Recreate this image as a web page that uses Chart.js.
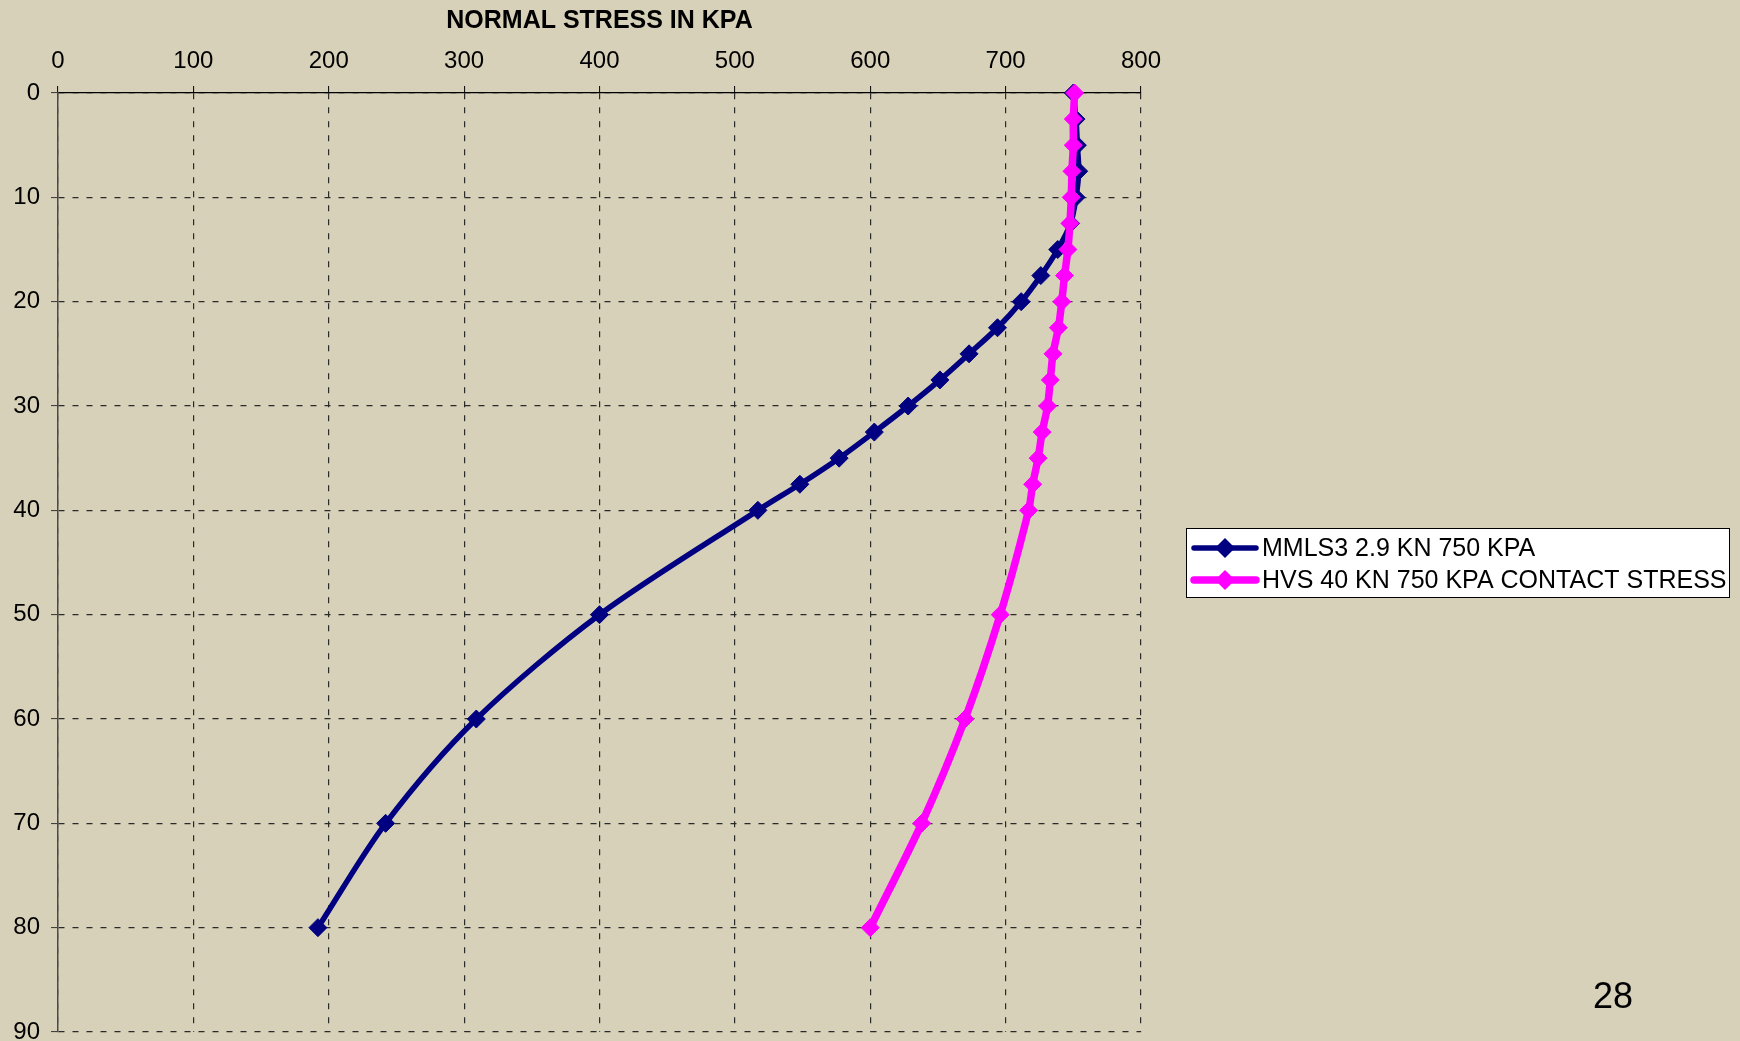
<!DOCTYPE html>
<html>
<head>
<meta charset="utf-8">
<script src="https://cdn.jsdelivr.net/npm/chart.js@4/dist/chart.umd.min.js"></script>
<style>
  html, body { margin: 0; padding: 0; background: #D7D1B9; }
  #wrap { position: relative; width: 1740px; height: 1041px; overflow: hidden; background: #D7D1B9; }
  #pg { position: absolute; left: 1573px; top: 974px; width: 80px; text-align: center;
        font: 36px "Liberation Sans", Arial, sans-serif; color: #000; line-height: 44px; }
</style>
</head>
<body>
<div id="wrap">
  <canvas id="c" width="1740" height="1041"></canvas>
  <div id="pg">28</div>
</div>
<script>
// ---- data ----
const depths = [0, 2.5, 5, 7.5, 10, 12.5, 15, 17.5, 20, 22.5, 25, 27.5, 30, 32.5, 35, 37.5, 40, 50, 60, 70, 80];
const mmls3Stress = [750, 752, 753, 754, 752, 748, 738.5, 726, 711.5, 694, 673, 651.5, 628, 603, 577, 548, 517, 400, 309, 242, 192];
const hvsStress = [751, 750, 750, 749, 748.5, 747.5, 746, 743.5, 741.5, 739, 735, 733, 731, 727, 724, 720, 717, 696, 670, 638, 600];
const seriesLabels = ['MMLS3 2.9 KN 750 KPA', 'HVS 40 KN 750 KPA CONTACT STRESS'];
const seriesColors = ['#000080', '#FF00FF'];
const xTickLabels = ['0', '100', '200', '300', '400', '500', '600', '700', '800'];
const yTickLabels = ['0', '10', '20', '30', '40', '50', '60', '70', '80', '90'];
const xTitle = 'NORMAL STRESS IN KPA';

const FONT = '"Liberation Sans", Arial, sans-serif';
const toPts = (xs) => xs.map((v, i) => ({ x: v, y: depths[i] }));

const legendPlugin = {
  id: 'boxLegend',
  afterDraw(chart) {
    const ctx = chart.ctx;
    const bx = 1186.5, by = 528.5, bw = 543, bh = 69;
    ctx.save();
    ctx.fillStyle = '#FFFFFF';
    ctx.fillRect(bx, by, bw, bh);
    ctx.strokeStyle = '#000000';
    ctx.lineWidth = 1;
    ctx.strokeRect(bx, by, bw, bh);
    const rows = [548, 580];
    const widths = [5.5, 7.5];
    chart.data.datasets.forEach((ds, i) => {
      const y = rows[i];
      ctx.strokeStyle = seriesColors[i];
      ctx.lineWidth = widths[i];
      ctx.lineCap = 'round';
      ctx.beginPath();
      ctx.moveTo(1194, y);
      ctx.lineTo(1256, y);
      ctx.stroke();
      ctx.fillStyle = seriesColors[i];
      const r = 10;
      ctx.beginPath();
      ctx.moveTo(1225 - r, y); ctx.lineTo(1225, y - r); ctx.lineTo(1225 + r, y); ctx.lineTo(1225, y + r);
      ctx.closePath();
      ctx.fill();
      ctx.fillStyle = '#000';
      ctx.font = '25px ' + FONT;
      ctx.textAlign = 'left';
      ctx.textBaseline = 'middle';
      ctx.fillText(seriesLabels[i], 1262, y + 1);
    });
    ctx.restore();
  }
};

new Chart(document.getElementById('c'), {
  type: 'scatter',
  data: {
    datasets: [
      {
        label: seriesLabels[0], data: toPts(mmls3Stress), showLine: true,
        borderColor: seriesColors[0], backgroundColor: seriesColors[0],
        borderWidth: 5.5, pointStyle: 'rectRot', pointRadius: 9, pointBorderWidth: 1,
        pointBorderColor: seriesColors[0], pointBackgroundColor: seriesColors[0],
        tension: 0.3, clip: false, order: 2
      },
      {
        label: seriesLabels[1], data: toPts(hvsStress), showLine: true,
        borderColor: seriesColors[1], backgroundColor: seriesColors[1],
        borderWidth: 7.5, pointStyle: 'rectRot', pointRadius: 9, pointBorderWidth: 1,
        pointBorderColor: seriesColors[1], pointBackgroundColor: seriesColors[1],
        tension: 0.3, clip: false, order: 1
      }
    ]
  },
  options: {
    responsive: false,
    animation: false,
    devicePixelRatio: 1,
    layout: { padding: { left: 0, top: 0, right: 599, bottom: 9 }, autoPadding: false },
    plugins: { legend: { display: false }, tooltip: { enabled: false } },
    scales: {
      x: {
        type: 'linear', position: 'top', min: 0, max: 800,
        afterFit: (s) => { s.height = 93; s.paddingLeft = 0; s.paddingRight = 0; },
        ticks: {
          stepSize: 100, padding: 10, color: '#000',
          font: { family: FONT, size: 24 },
          callback: (v) => xTickLabels[Math.round(v / 100)]
        },
        grid: { color: '#2a2a2a', lineWidth: 1.2, drawTicks: true, tickLength: 7, tickColor: '#000', tickWidth: 1, tickBorderDash: [] },
        border: { display: true, color: '#000', width: 1.2, dash: [6, 8] },
        title: { display: true, text: xTitle, color: '#000', font: { family: FONT, size: 25, weight: 'bold' }, padding: { top: 6, bottom: 0 } }
      },
      y: {
        type: 'linear', reverse: true, min: 0, max: 90,
        afterFit: (s) => { s.width = 58; s.paddingTop = 0; s.paddingBottom = 0; },
        ticks: {
          stepSize: 10, padding: 11, color: '#000',
          font: { family: FONT, size: 24 },
          callback: (v) => yTickLabels[Math.round(v / 10)]
        },
        grid: { color: '#2a2a2a', lineWidth: 1.2, drawTicks: true, tickLength: 7, tickColor: '#333', tickWidth: 1, tickBorderDash: [] },
        border: { display: true, color: '#4a4a4a', width: 1.5, dash: [6, 8] }
      }
    }
  },
  plugins: [legendPlugin]
});
</script>
</body>
</html>
